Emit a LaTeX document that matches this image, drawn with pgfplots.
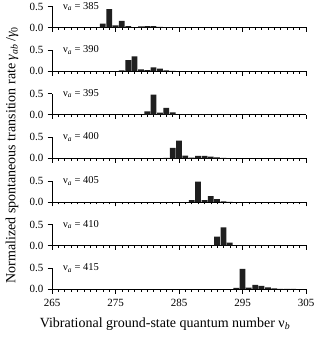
\documentclass[border=0pt]{standalone}
\usepackage{pgfplots}
\pgfplotsset{compat=1.18}
\usepackage{fontspec}
\setmainfont{Liberation Serif}
\pgfplotsset{panel/.style={
  scale only axis, width=254pt, height=21pt,
  xmin=265, xmax=305, ymin=0, ymax=0.5,
  axis x line*=bottom, axis y line*=left,
  ytick={0,0.5}, yticklabels={0.0,0.5},
  xtick={265,275,...,305}, minor x tick num=9, xticklabels={},
  tick align=outside, major tick length=4.5pt, minor tick length=2.5pt,
  tick style={black, line width=0.5pt}, axis line style={line width=0.5pt},
  ticklabel style={font=\fontsize{11}{12}\selectfont},
  yticklabel style={xshift=-0.5pt},
  anchor=south west, clip=false,
}, barsty/.style={ybar, bar width=0.9, fill=black!88, draw=none}}
\newcommand{\plabel}[1]{\node[anchor=west, font=\fontsize{10.5}{12}\selectfont] at (axis cs:266.2,0.5) {ν\textsubscript{\textit{a}} = #1};}
\begin{document}
\begin{tikzpicture}[x=1pt,y=1pt]
\path[use as bounding box] (0,0) rectangle (314,337);
\begin{axis}[panel, at={(52pt,309.5pt)}]
\addplot[barsty] coordinates {(272,0.005)(273,0.09)(274,0.44)(275,0.05)(276,0.16)(277,0.03)(278,0.005)(279,0.025)(280,0.03)(281,0.03)(282,0.015)(283,0.01)(284,0.008)(285,0.005)};
\plabel{385}
\end{axis}
\begin{axis}[panel, at={(52pt,265.9pt)}]
\addplot[barsty] coordinates {(276,0.015)(277,0.26)(278,0.35)(279,0.04)(280,0.025)(281,0.09)(282,0.06)(283,0.02)(284,0.005)};
\plabel{390}
\end{axis}
\begin{axis}[panel, at={(52pt,222.3pt)}]
\addplot[barsty] coordinates {(280,0.08)(281,0.48)(282,0.05)(283,0.16)(284,0.055)(285,0.003)(286,0.005)(287,0.01)(288,0.01)(289,0.01)(290,0.01)(291,0.008)(292,0.006)(293,0.005)(294,0.003)};
\plabel{395}
\end{axis}
\begin{axis}[panel, at={(52pt,178.7pt)}]
\addplot[barsty] coordinates {(283,0.01)(284,0.25)(285,0.42)(286,0.065)(287,0.015)(288,0.06)(289,0.06)(290,0.04)(291,0.02)(292,0.01)(293,0.005)};
\plabel{400}
\end{axis}
\begin{axis}[panel, at={(52pt,135.1pt)}]
\addplot[barsty] coordinates {(287,0.04)(288,0.48)(289,0.04)(290,0.14)(291,0.065)(292,0.015)(293,0.003)};
\plabel{405}
\end{axis}
\begin{axis}[panel, at={(52pt,91.5pt)}]
\addplot[barsty] coordinates {(291,0.21)(292,0.43)(293,0.07)(294,0.003)(295,0.01)(296,0.01)(297,0.008)(298,0.008)(299,0.005)(300,0.004)};
\plabel{410}
\end{axis}
\begin{axis}[panel, at={(52pt,47.9pt)}, xticklabels={265,275,285,295,305},
  xticklabel style={yshift=-2pt}]
\addplot[barsty] coordinates {(294,0.03)(295,0.48)(296,0.035)(297,0.1)(298,0.075)(299,0.04)(300,0.015)(301,0.008)(302,0.005)(303,0.003)};
\plabel{415}
\end{axis}
\node[font=\fontsize{14}{16}\selectfont] at (165,13) {Vibrational ground-state quantum number ν\textsubscript{\textit{b}}};
\node[rotate=90, font=\fontsize{14}{16}\selectfont] at (12,182) {Normalized spontaneous transition rate \textit{γ}\textsubscript{\textit{ab}}\,/\textit{γ}\textsubscript{0}};
\end{tikzpicture}
\end{document}
